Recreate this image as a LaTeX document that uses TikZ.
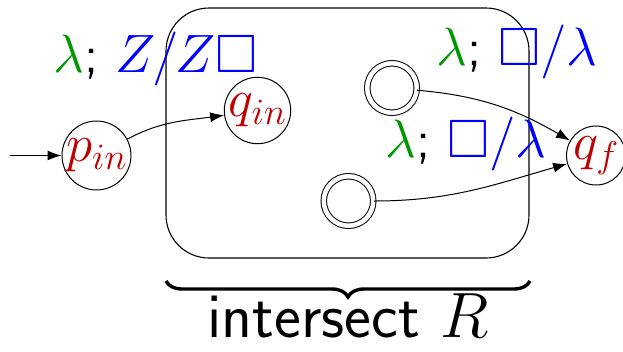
\RequirePackage{fix-cm}
\documentclass[tikz,border=0pt]{standalone}
\usepackage{amssymb}
\usetikzlibrary{arrows.meta,decorations.pathreplacing}
\definecolor{lblgreen}{RGB}{0,150,0}
\definecolor{lblblue}{RGB}{0,0,255}
\definecolor{stred}{RGB}{190,0,0}
\tikzset{
  state/.style={circle,draw,line width=1pt,minimum size=53pt,inner sep=0pt,
    text=stred,font=\fontsize{53}{53}\selectfont},
  accstate/.style={circle,draw,line width=1pt,double,double distance=4.5pt,
    minimum size=49.5pt,inner sep=0pt},
  edge/.style={line width=1pt,-{Latex[length=14pt,width=10pt]}},
  lbl/.style={inner sep=0pt,anchor=base west,font=\fontsize{54}{54}\selectfont},
  box/.style={draw,line width=1.1pt,rounded corners=43pt},
  brc/.style={decorate,decoration={brace,mirror,amplitude=16pt},line width=3.4pt},
  btxt/.style={inner sep=0pt,anchor=base,font=\fontsize{64}{64}\selectfont\sffamily}
}
\begin{document}
\begin{tikzpicture}[x=1pt,y=1pt]
\useasboundingbox (0,0) rectangle (623,-351);
\node[box,minimum width=363pt,minimum height=250pt,inner sep=0pt] (R) at (347.5,-133) {};
\node[state] (pin) at (96.5,-155.5) {$p_{in}$};
\node[state] (qin) at (257.5,-110.5) {$q_{in}$};
\node[state] (qf) at (596,-155.5) {$q_f$};
\node[accstate] (a1) at (392,-88) {};
\node[accstate] (a2) at (348.5,-201) {};
\coordinate (start) at (10,-155.5);
\draw[edge] (start) -- (pin);
\draw[edge] (pin) to[out=28,in=188] (qin);
\draw[edge] (a1) to[out=-5,in=150] (qf);
\draw[edge] (a2) to[out=0,in=196] (qf);
\node[lbl] (l1) at (53,-72) {\textcolor{lblgreen}{$\lambda$}\sffamily;~\textcolor{lblblue}{$Z/Z\Box$}};
\node[lbl] (l2) at (436,-65) {\textcolor{lblgreen}{$\lambda$}\sffamily;~\textcolor{lblblue}{$\Box/\lambda$}};
\node[lbl] (l3) at (385,-157) {\textcolor{lblgreen}{$\lambda$}\sffamily;~\textcolor{lblblue}{$\Box/\lambda$}};
\coordinate (bl) at (166,-281);
\coordinate (br) at (530,-281);
\draw[brc] (bl) -- (br);
\node[btxt] (it) at (348,-337) {intersect $R$};
\end{tikzpicture}
\end{document}
